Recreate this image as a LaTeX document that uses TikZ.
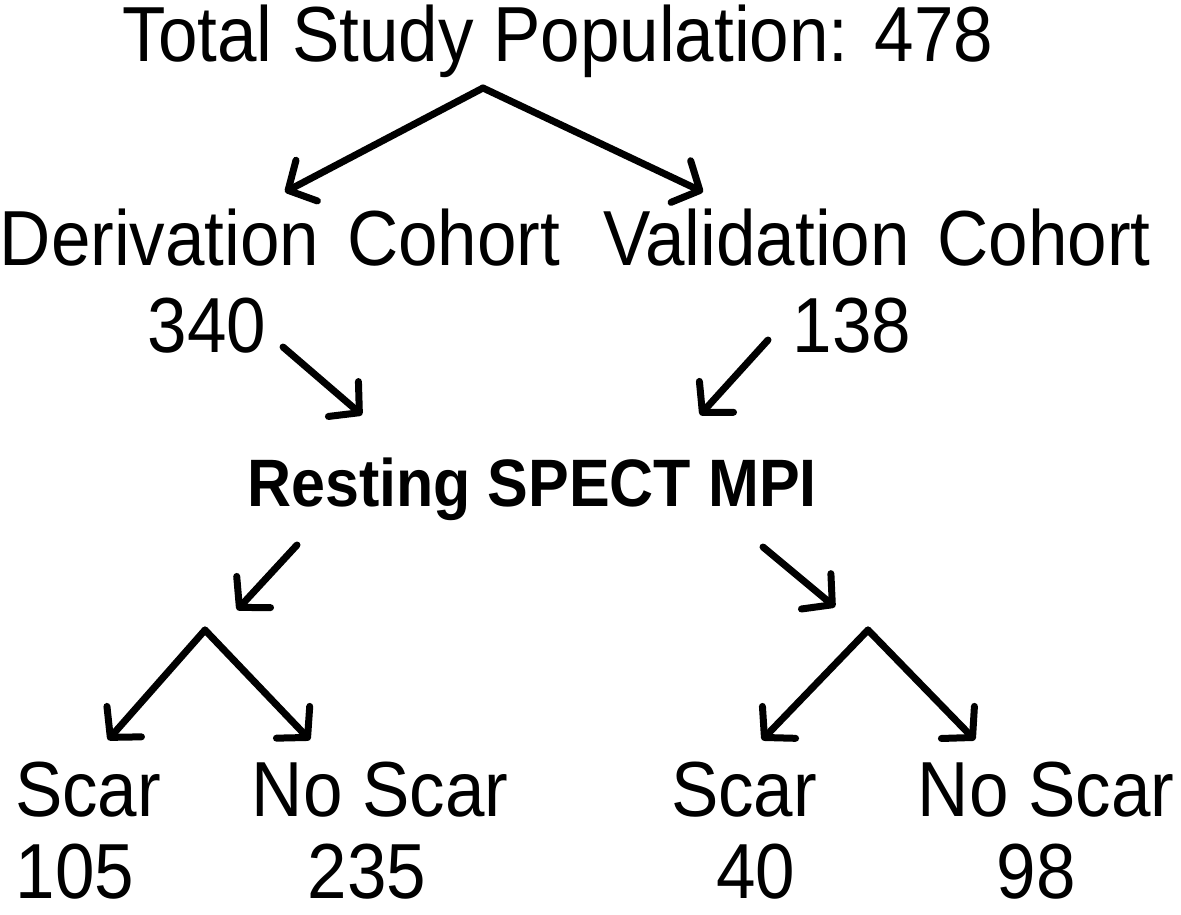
\documentclass[tikz,border=0pt]{standalone}
\usepackage{fontspec}
\setmainfont{Liberation Sans}
\usetikzlibrary{
  positioning,
  arrows.meta
}
\newcommand{\lblfont}{\fontsize{71}{80}\selectfont}
\newcommand{\hdrfont}{\fontsize{61}{70}\selectfont\bfseries}
\newcommand{\tall}[1]{\scalebox{1}[1.1]{#1}}

\begin{document}
\begin{tikzpicture}[
  x=1pt, y=-1pt,
  every node/.style={font=\lblfont, inner sep=0pt},
  lbl/.style={anchor=base},
  hdr/.style={anchor=base, font=\hdrfont},
  arrow/.style={
    -{Straight Barb[length=21pt, width=46pt, round]},
    line width=7pt, line cap=round, line join=round
  }
]
 \useasboundingbox (0,0) rectangle (1181,915);

 % Level 1 -- whole population
 \node[lbl] (total) at (558,62) {\tall{Total Study Population: 478}};
 \coordinate (split) at (483,88);

 % Level 2 -- the two cohorts
 \node[lbl] (deriv)  at (280,265) {\tall{Derivation\hspace{8pt} Cohort}};
 \node[lbl] (valid)  at (877,265) {\tall{Validation\hspace{8pt} Cohort}};
 \node[lbl] (nderiv) at (207,352) {\tall{340}};
 \node[lbl] (nvalid) at (852,352) {\tall{138}};
 \coordinate (dtop) at (285,192);
 \coordinate (vtop) at (703,192);

 \draw[arrow] (split) -- (dtop);
 \draw[arrow] (split) -- (vtop);

 % Level 3 -- imaging
 \node[hdr] (spect) at (532,506) {\tall{Resting SPECT MPI}};
 \coordinate (din)  at (283,347);
 \coordinate (vin)  at (768,340);
 \coordinate (sin1) at (362,415);
 \coordinate (sin2) at (700,415);

 \draw[arrow] (din) -- (sin1);
 \draw[arrow] (vin) -- (sin2);

 % Level 4 -- scar / no scar per cohort
 \coordinate (lout) at (297,545);
 \coordinate (rout) at (763,547);
 \coordinate (ltip) at (237,610);
 \coordinate (rtip) at (835,607);
 \coordinate (lsplit) at (205,630);
 \coordinate (rsplit) at (868,630);

 \draw[arrow] (lout) -- (ltip);
 \draw[arrow] (rout) -- (rtip);

 \node[lbl] (scarA)   at (88,816)   {\tall{Scar}};
 \node[lbl] (noscarA) at (380,816)  {\tall{No Scar}};
 \node[lbl] (nscarA)  at (75,898)   {\tall{105}};
 \node[lbl] (nnoA)    at (367,898)  {\tall{235}};
 \node[lbl] (scarB)   at (744,816)  {\tall{Scar}};
 \node[lbl] (noscarB) at (1046,816) {\tall{No Scar}};
 \node[lbl] (nscarB)  at (756,898)  {\tall{40}};
 \node[lbl] (nnoB)    at (1036,898) {\tall{98}};

 \coordinate (scarAin)   at (108,740);
 \coordinate (noscarAin) at (310,740);
 \coordinate (scarBin)   at (762,740);
 \coordinate (noscarBin) at (975,740);

 \draw[arrow] (lsplit) -- (scarAin);
 \draw[arrow] (lsplit) -- (noscarAin);
 \draw[arrow] (rsplit) -- (scarBin);
 \draw[arrow] (rsplit) -- (noscarBin);
\end{tikzpicture}
\end{document}
